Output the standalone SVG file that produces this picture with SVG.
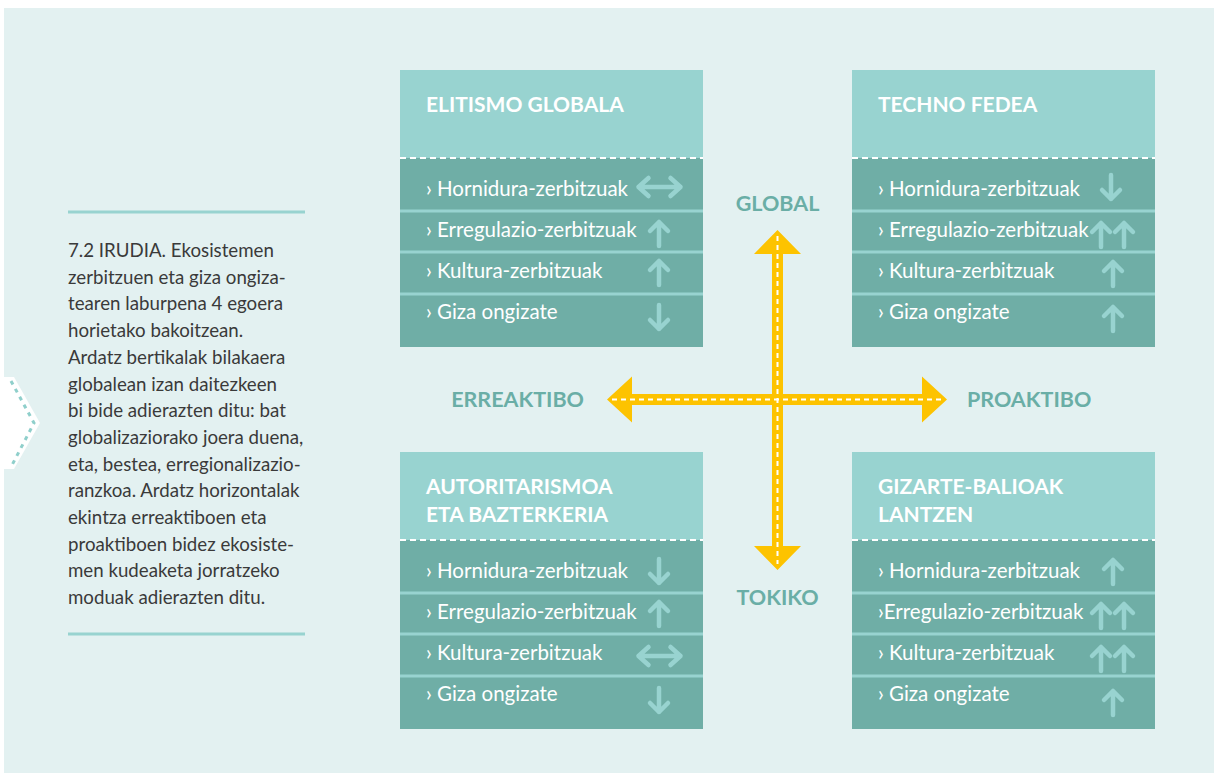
<svg xmlns="http://www.w3.org/2000/svg" width="1214" height="773" viewBox="0 0 1214 773">
<style>
.hdr{fill:#98d3d0}
.body{fill:#6faea6}
.sep{stroke:#98d3d0;stroke-width:3}
.dash{stroke:#ffffff;stroke-width:2;stroke-dasharray:6 4}
.ht{font-family:Lato,"Open Sans",sans-serif;font-weight:700;font-size:21px;fill:#ffffff}
.rt{font-family:Lato,"Open Sans",sans-serif;font-size:20.5px;fill:#ffffff}
.ax{font-family:Lato,"Open Sans",sans-serif;font-weight:700;font-size:21.5px;fill:#6aaea6}
.cap{font-family:Lato,"Open Sans",sans-serif;font-size:18.7px;fill:#3a3a3a}
.ar{fill:none;stroke:#98d3d0;stroke-width:4.5;stroke-linecap:round;stroke-linejoin:round}
.rule{stroke:#98d3d0;stroke-width:3}
</style>
<defs>
<path id="up" class="ar" d="M0,-12 V12 M-9,-3 L0,-12 L9,-3"/>
<path id="down" class="ar" d="M0,12 V-12 M-9,3 L0,12 L9,3"/>
<path id="lr" class="ar" d="M-21,0 H21 M-11,-9 L-21,0 L-11,9 M11,-9 L21,0 L11,9"/>
</defs>
<rect x="4" y="8" width="1210" height="765" fill="#e3f1f1"/>
<g id="chevron">
<polygon points="4,377 14,377 40,423 14,469 4,469" fill="#ffffff"/>
<polyline points="11,381 34,423 11,467" fill="none" stroke="#8fcfcb" stroke-width="3" stroke-dasharray="4 5"/>
</g>
<g id="caption">
<line class="rule" x1="68" y1="212" x2="305" y2="212"/>
<line class="rule" x1="68" y1="634" x2="305" y2="634"/>
<text class="cap" x="68" y="257">7.2 IRUDIA. Ekosistemen</text>
<text class="cap" x="68" y="283.7">zerbitzuen eta giza ongiza-</text>
<text class="cap" x="68" y="310.4">tearen laburpena 4 egoera</text>
<text class="cap" x="68" y="337.1">horietako bakoitzean.</text>
<text class="cap" x="68" y="363.8">Ardatz bertikalak bilakaera</text>
<text class="cap" x="68" y="390.5">globalean izan daitezkeen</text>
<text class="cap" x="68" y="417.2">bi bide adierazten ditu: bat</text>
<text class="cap" x="68" y="443.9">globalizaziorako joera duena,</text>
<text class="cap" x="68" y="470.6">eta, bestea, erregionalizazio-</text>
<text class="cap" x="68" y="497.3">ranzkoa. Ardatz horizontalak</text>
<text class="cap" x="68" y="524">ekintza erreaktiboen eta</text>
<text class="cap" x="68" y="550.7">proaktiboen bidez ekosiste-</text>
<text class="cap" x="68" y="577.4">men kudeaketa jorratzeko</text>
<text class="cap" x="68" y="604.1">moduak adierazten ditu.</text>
</g>
<g id="elitismo-globala">
<rect class="hdr" x="400" y="70" width="303" height="88"/>
<rect class="body" x="400" y="158" width="303" height="189"/>
<line class="dash" x1="400" y1="158" x2="703" y2="158"/>
<line class="sep" x1="400" y1="211" x2="703" y2="211"/>
<line class="sep" x1="400" y1="252" x2="703" y2="252"/>
<line class="sep" x1="400" y1="294" x2="703" y2="294"/>
<text class="ht" x="426" y="112">ELITISMO GLOBALA</text>
<text class="rt" x="426" y="196">› Hornidura-zerbitzuak</text>
<text class="rt" x="426" y="237">› Erregulazio-zerbitzuak</text>
<text class="rt" x="426" y="278">› Kultura-zerbitzuak</text>
<text class="rt" x="426" y="319">› Giza ongizate</text>
<use href="#lr" x="659.5" y="187"/>
<use href="#up" x="659" y="234"/>
<use href="#up" x="659" y="273"/>
<use href="#down" x="659" y="317"/>
</g>
<g id="techno-fedea">
<rect class="hdr" x="852" y="70" width="303" height="88"/>
<rect class="body" x="852" y="158" width="303" height="189"/>
<line class="dash" x1="852" y1="158" x2="1155" y2="158"/>
<line class="sep" x1="852" y1="211" x2="1155" y2="211"/>
<line class="sep" x1="852" y1="252" x2="1155" y2="252"/>
<line class="sep" x1="852" y1="294" x2="1155" y2="294"/>
<text class="ht" x="878" y="112">TECHNO FEDEA</text>
<text class="rt" x="878" y="196">› Hornidura-zerbitzuak</text>
<text class="rt" x="878" y="237">› Erregulazio-zerbitzuak</text>
<text class="rt" x="878" y="278">› Kultura-zerbitzuak</text>
<text class="rt" x="878" y="319">› Giza ongizate</text>
<use href="#down" x="1111" y="187"/>
<use href="#up" x="1101" y="235"/>
<use href="#up" x="1124" y="235"/>
<use href="#up" x="1113" y="274"/>
<use href="#up" x="1113" y="319"/>
</g>
<g id="autoritarismoa">
<rect class="hdr" x="400" y="452" width="303" height="88"/>
<rect class="body" x="400" y="540" width="303" height="189"/>
<line class="dash" x1="400" y1="540" x2="703" y2="540"/>
<line class="sep" x1="400" y1="593" x2="703" y2="593"/>
<line class="sep" x1="400" y1="634" x2="703" y2="634"/>
<line class="sep" x1="400" y1="676" x2="703" y2="676"/>
<text class="ht" x="426" y="494">AUTORITARISMOA</text>
<text class="ht" x="426" y="522">ETA BAZTERKERIA</text>
<text class="rt" x="426" y="578">› Hornidura-zerbitzuak</text>
<text class="rt" x="426" y="619">› Erregulazio-zerbitzuak</text>
<text class="rt" x="426" y="660">› Kultura-zerbitzuak</text>
<text class="rt" x="426" y="701">› Giza ongizate</text>
<use href="#down" x="659" y="571"/>
<use href="#up" x="659" y="614"/>
<use href="#lr" x="659.5" y="656"/>
<use href="#down" x="659" y="700"/>
</g>
<g id="gizarte-balioak">
<rect class="hdr" x="852" y="452" width="303" height="88"/>
<rect class="body" x="852" y="540" width="303" height="189"/>
<line class="dash" x1="852" y1="540" x2="1155" y2="540"/>
<line class="sep" x1="852" y1="593" x2="1155" y2="593"/>
<line class="sep" x1="852" y1="634" x2="1155" y2="634"/>
<line class="sep" x1="852" y1="676" x2="1155" y2="676"/>
<text class="ht" x="878" y="494">GIZARTE-BALIOAK</text>
<text class="ht" x="878" y="522">LANTZEN</text>
<text class="rt" x="878" y="578">› Hornidura-zerbitzuak</text>
<text class="rt" x="878" y="619">›Erregulazio-zerbitzuak</text>
<text class="rt" x="878" y="660">› Kultura-zerbitzuak</text>
<text class="rt" x="878" y="701">› Giza ongizate</text>
<use href="#up" x="1113" y="572"/>
<use href="#up" x="1101" y="616"/>
<use href="#up" x="1124" y="616"/>
<use href="#up" x="1101" y="659"/>
<use href="#up" x="1124" y="659"/>
<use href="#up" x="1113" y="703"/>
</g>
<g id="axis-labels">
<text class="ax" x="777.5" y="211" text-anchor="middle">GLOBAL</text>
<text class="ax" x="777.5" y="605" text-anchor="middle">TOKIKO</text>
<text class="ax" x="584" y="407" text-anchor="end">ERREAKTIBO</text>
<text class="ax" x="967" y="407">PROAKTIBO</text>
</g>
<g id="connectors">
<path fill="#fdc300" d="M607,399.5 L632,376.5 L632,394 L922,394 L922,376.5 L947,399.5 L922,422.5 L922,405 L632,405 L632,422.5 Z"/>
<path fill="#fdc300" d="M777.5,230 L801,254 L783,254 L783,546 L801,546 L777.5,570 L754,546 L772,546 L772,254 L754,254 Z"/>
<line x1="612" y1="399.5" x2="942" y2="399.5" stroke="#ffffff" stroke-width="2" stroke-dasharray="5 4"/>
<line x1="777.5" y1="236" x2="777.5" y2="564" stroke="#ffffff" stroke-width="2" stroke-dasharray="5 4"/>
</g>
</svg>
